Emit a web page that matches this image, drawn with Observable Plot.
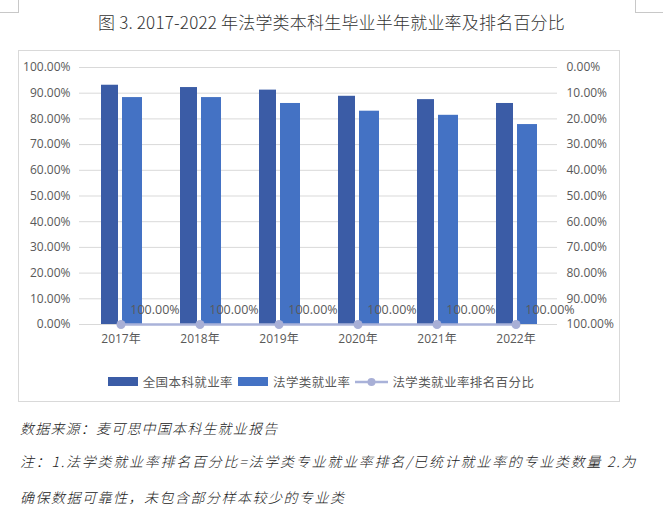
<!DOCTYPE html>
<html>
<head>
<meta charset="utf-8">
<script src="https://cdn.jsdelivr.net/npm/d3@7"></script>
<script src="https://cdn.jsdelivr.net/npm/@observablehq/plot@0.6"></script>
<style>
  html, body { margin: 0; padding: 0; background: #fff; }
  #page { position: relative; width: 663px; height: 531px; overflow: hidden; font-family: "Noto Sans CJK SC", "Noto Sans", sans-serif; }
  .corner { position: absolute; background: #c8c8c8; }
  #title { position: absolute; top: 9px; left: 0; width: 663px; text-align: center; font-size: 17px; color: #333; font-family: "Noto Sans CJK SC", sans-serif; font-weight: 300; letter-spacing: 0.2px; }
  #box { position: absolute; left: 18px; top: 50px; width: 602px; height: 352px; border: 1px solid #d9d9d9; box-sizing: border-box; }
  #chart { position: absolute; left: 0; top: 50px; }
  #legend { position: absolute; top: 372px; left: 0; width: 663px; display: flex; justify-content: center; align-items: center; font-size: 12.5px; color: #595959; letter-spacing: 0.4px; padding-right: 16px; box-sizing: border-box; }
  #legend .item { display: flex; align-items: center; margin-right: 5px; }
  #legend .sw { width: 30px; height: 9px; margin-right: 5px; }
  .cap { position: absolute; left: 20px; font-size: 14px; font-style: italic; font-weight: 300; color: #222; white-space: nowrap; }
</style>
</head>
<body>
<div id="page">
  <div class="corner" style="left:18px;top:0;width:1px;height:13px"></div>
  <div class="corner" style="left:0;top:12px;width:19px;height:1px"></div>
  <div class="corner" style="left:635px;top:0;width:1px;height:13px"></div>
  <div class="corner" style="left:635px;top:12px;width:28px;height:1px"></div>
  <div id="title">图 3. 2017-2022 年法学类本科生毕业半年就业率及排名百分比</div>
  <div id="box"></div>
  <div id="chart"></div>
  <div id="legend"></div>
  <div class="cap" style="top:418px;letter-spacing:1.2px">数据来源：麦可思中国本科生就业报告</div>
  <div class="cap" style="top:451px;letter-spacing:1.75px">注：1.法学类就业率排名百分比=法学类专业就业率排名/已统计就业率的专业类数量 2.为</div>
  <div class="cap" style="top:487px;letter-spacing:1.5px">确保数据可靠性，未包含部分样本较少的专业类</div>
</div>
<script>
// ---- data ----
const years = ["2017", "2018", "2019", "2020", "2021", "2022"];
const nationalRate = [0.931, 0.922, 0.912, 0.888, 0.875, 0.860];
const lawRate = [0.883, 0.883, 0.860, 0.830, 0.814, 0.778];
const lawRankPct = [1.0, 1.0, 1.0, 1.0, 1.0, 1.0];
const yTicks = [0, 0.1, 0.2, 0.3, 0.4, 0.5, 0.6, 0.7, 0.8, 0.9, 1.0];
const seriesNames = ["全国本科就业率", "法学类就业率", "法学类就业率排名百分比"];
const seriesColors = ["#3b5ca6", "#4472c4", "#a9b2d9"];

const rows = years.map((y, i) => ({
  year: y,
  national: nationalRate[i],
  law: lawRate[i],
  rank: lawRankPct[i]
}));

const pct = d3.format(".2%");

const chart = Plot.plot({
  width: 663,
  height: 300,
  marginLeft: 79,
  marginRight: 106,
  marginTop: 17,
  marginBottom: 26,
  style: { fontFamily: "'Open Sans', 'Noto Sans CJK SC', sans-serif", fontSize: "12px", color: "#595959", background: "transparent" },
  x: { domain: years, padding: 0, label: null },
  y: { domain: [0, 1], label: null },
  marks: [
    Plot.gridY(yTicks, { stroke: "#d9d9d9", strokeOpacity: 1, strokeWidth: 1 }),
    Plot.axisY(yTicks, { anchor: "left", tickSize: 0, tickPadding: 9, tickFormat: pct, fontSize: 12, label: null }),
    Plot.axisY(yTicks, { anchor: "right", tickSize: 0, tickPadding: 9, tickFormat: d => pct(1 - d), fontSize: 12, label: null, textAnchor: "start" }),
    Plot.axisX({ tickSize: 0, tickPadding: 10, tickFormat: d => d + "年", fontSize: 12, label: null }),
    Plot.barY(rows, { x: "year", y: "national", fill: seriesColors[0], insetLeft: 20, insetRight: 42 }),
    Plot.barY(rows, { x: "year", y: "law", fill: seriesColors[1], insetLeft: 41, insetRight: 18 }),
    Plot.lineY(rows, { x: "year", y: d => 1 - d.rank, stroke: seriesColors[2], strokeWidth: 2.5 }),
    Plot.dot(rows, { x: "year", y: d => 1 - d.rank, r: 4.5, fill: "#a8afd6", stroke: "none" }),
    Plot.text(rows, { x: "year", y: d => 1 - d.rank, text: d => pct(d.rank), dx: 34, dy: -15, fill: "#595959", fontSize: 12.5 })
  ]
});
document.getElementById("chart").appendChild(chart);

// ---- legend ----
const legend = document.getElementById("legend");
seriesNames.forEach((name, i) => {
  const item = document.createElement("div");
  item.className = "item";
  if (i < 2) {
    const sw = document.createElement("div");
    sw.className = "sw";
    sw.style.background = seriesColors[i];
    item.appendChild(sw);
  } else {
    const svgNS = "http://www.w3.org/2000/svg";
    const s = document.createElementNS(svgNS, "svg");
    s.setAttribute("width", 33); s.setAttribute("height", 10);
    s.style.marginRight = "4px";
    const l = document.createElementNS(svgNS, "line");
    l.setAttribute("x1", 0); l.setAttribute("x2", 33); l.setAttribute("y1", 5); l.setAttribute("y2", 5);
    l.setAttribute("stroke", seriesColors[2]); l.setAttribute("stroke-width", 2.5);
    const c = document.createElementNS(svgNS, "circle");
    c.setAttribute("cx", 16.5); c.setAttribute("cy", 5); c.setAttribute("r", 4);
    c.setAttribute("fill", "#a8afd6");
    s.appendChild(l); s.appendChild(c);
    item.appendChild(s);
  }
  const t = document.createElement("span");
  t.textContent = name;
  item.appendChild(t);
  legend.appendChild(item);
});
</script>
</body>
</html>
